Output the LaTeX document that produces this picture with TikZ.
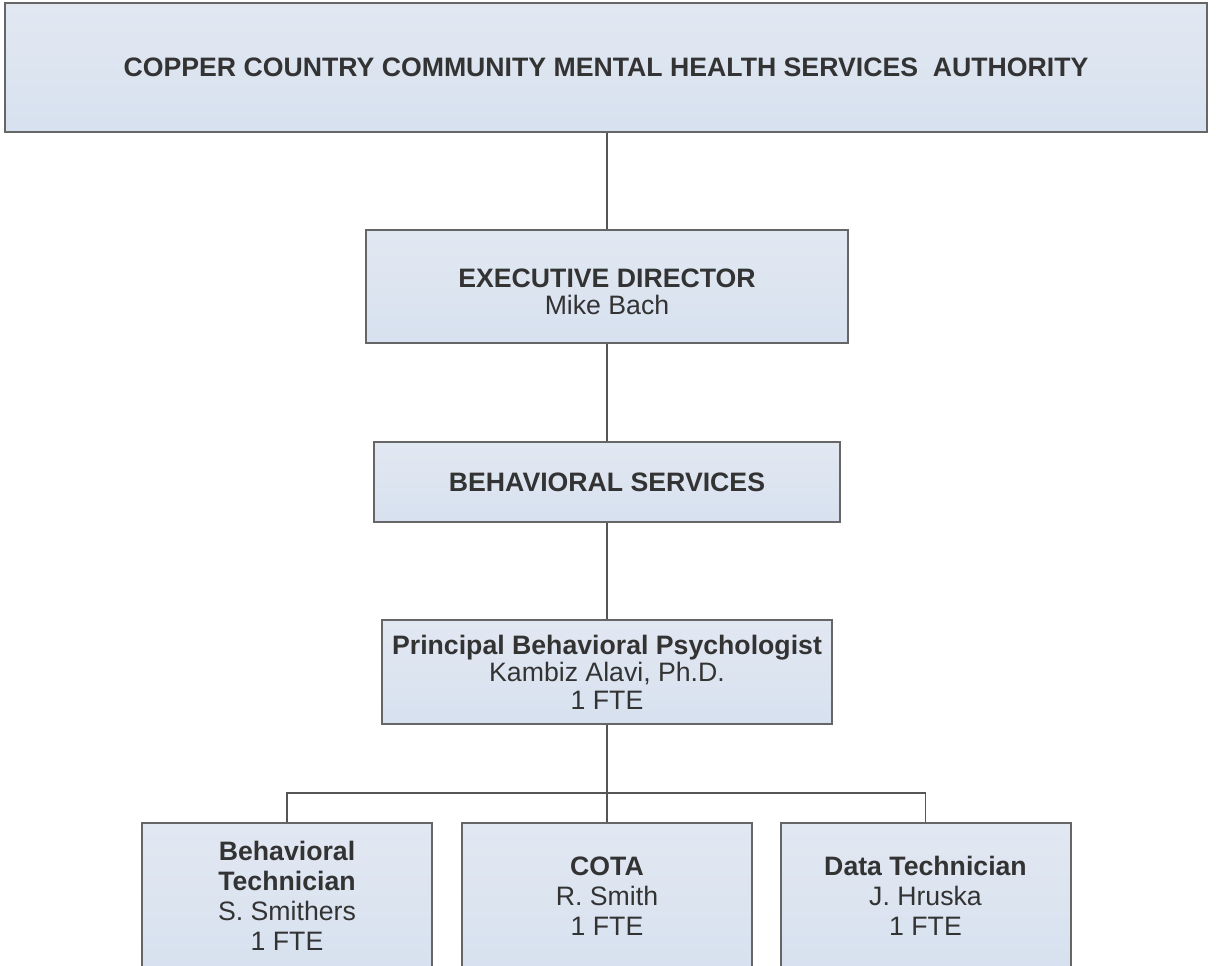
\documentclass[tikz,border=0pt]{standalone}
\usepackage{fontspec}
\setmainfont{Liberation Sans}
\definecolor{boxtop}{HTML}{E2E8F2}
\definecolor{boxbot}{HTML}{D7E1EF}
\definecolor{boxline}{HTML}{666666}
\definecolor{txt}{HTML}{333333}
\definecolor{conn}{HTML}{555555}
\tikzset{
  orgbox/.style={draw=boxline, line width=1.5pt, top color=boxtop, bottom color=boxbot,
    align=center, text=txt, inner sep=0pt,
    font=\fontsize{20}{20.6}\selectfont},
  lowbox/.style={orgbox, minimum width=290*0.75pt, minimum height=146*0.75pt,
    font=\fontsize{20}{22.5}\selectfont},
  boxtext/.style={align=center, text=txt, inner sep=0pt,
    font=\fontsize{20}{20.6}\selectfont},
  conline/.style={draw=conn, line width=1.1pt}
}
\begin{document}
\begin{tikzpicture}[x=0.75pt,y=-0.75pt]
\useasboundingbox (0,0) rectangle (1216,966);
\clip (0,0) rectangle (1216,966);
\node[orgbox, minimum width=1202*0.75pt, minimum height=129*0.75pt] (top) at (606,67.5)
  {\textbf{COPPER COUNTRY COMMUNITY MENTAL HEALTH SERVICES\ \ AUTHORITY}};
\node[orgbox, minimum width=482*0.75pt, minimum height=113*0.75pt] (exec) at (607,286.5) {};
\node[boxtext] (exectxt) at (607,292) {\textbf{EXECUTIVE DIRECTOR}\\Mike Bach};
\node[orgbox, minimum width=466*0.75pt, minimum height=80*0.75pt] (bs) at (607,482)
  {\textbf{BEHAVIORAL SERVICES}};
\node[orgbox, minimum width=450*0.75pt, minimum height=104*0.75pt] (prin) at (607,672)
  {\textbf{Principal Behavioral Psychologist}\\Kambiz Alavi, Ph.D.\\1 FTE};
\node[lowbox] (c1) at (287,896)
  {\textbf{Behavioral}\\\textbf{Technician}\\S. Smithers\\1 FTE};
\node[lowbox] (c2) at (607,896)
  {\textbf{COTA}\\R. Smith\\1 FTE};
\node[lowbox] (c3) at (925.5,896)
  {\textbf{Data Technician}\\J. Hruska\\1 FTE};
\draw[conline] (exec.north|-top.south) -- (exec.north);
\draw[conline] (exec.south) -- (bs.north);
\draw[conline] (bs.south) -- (prin.north);
\draw[conline] (prin.south) -- (c2.north);
\draw[conline] (c1.north) -- ++(0,-29) -| (c3.north);
\end{tikzpicture}
\end{document}
